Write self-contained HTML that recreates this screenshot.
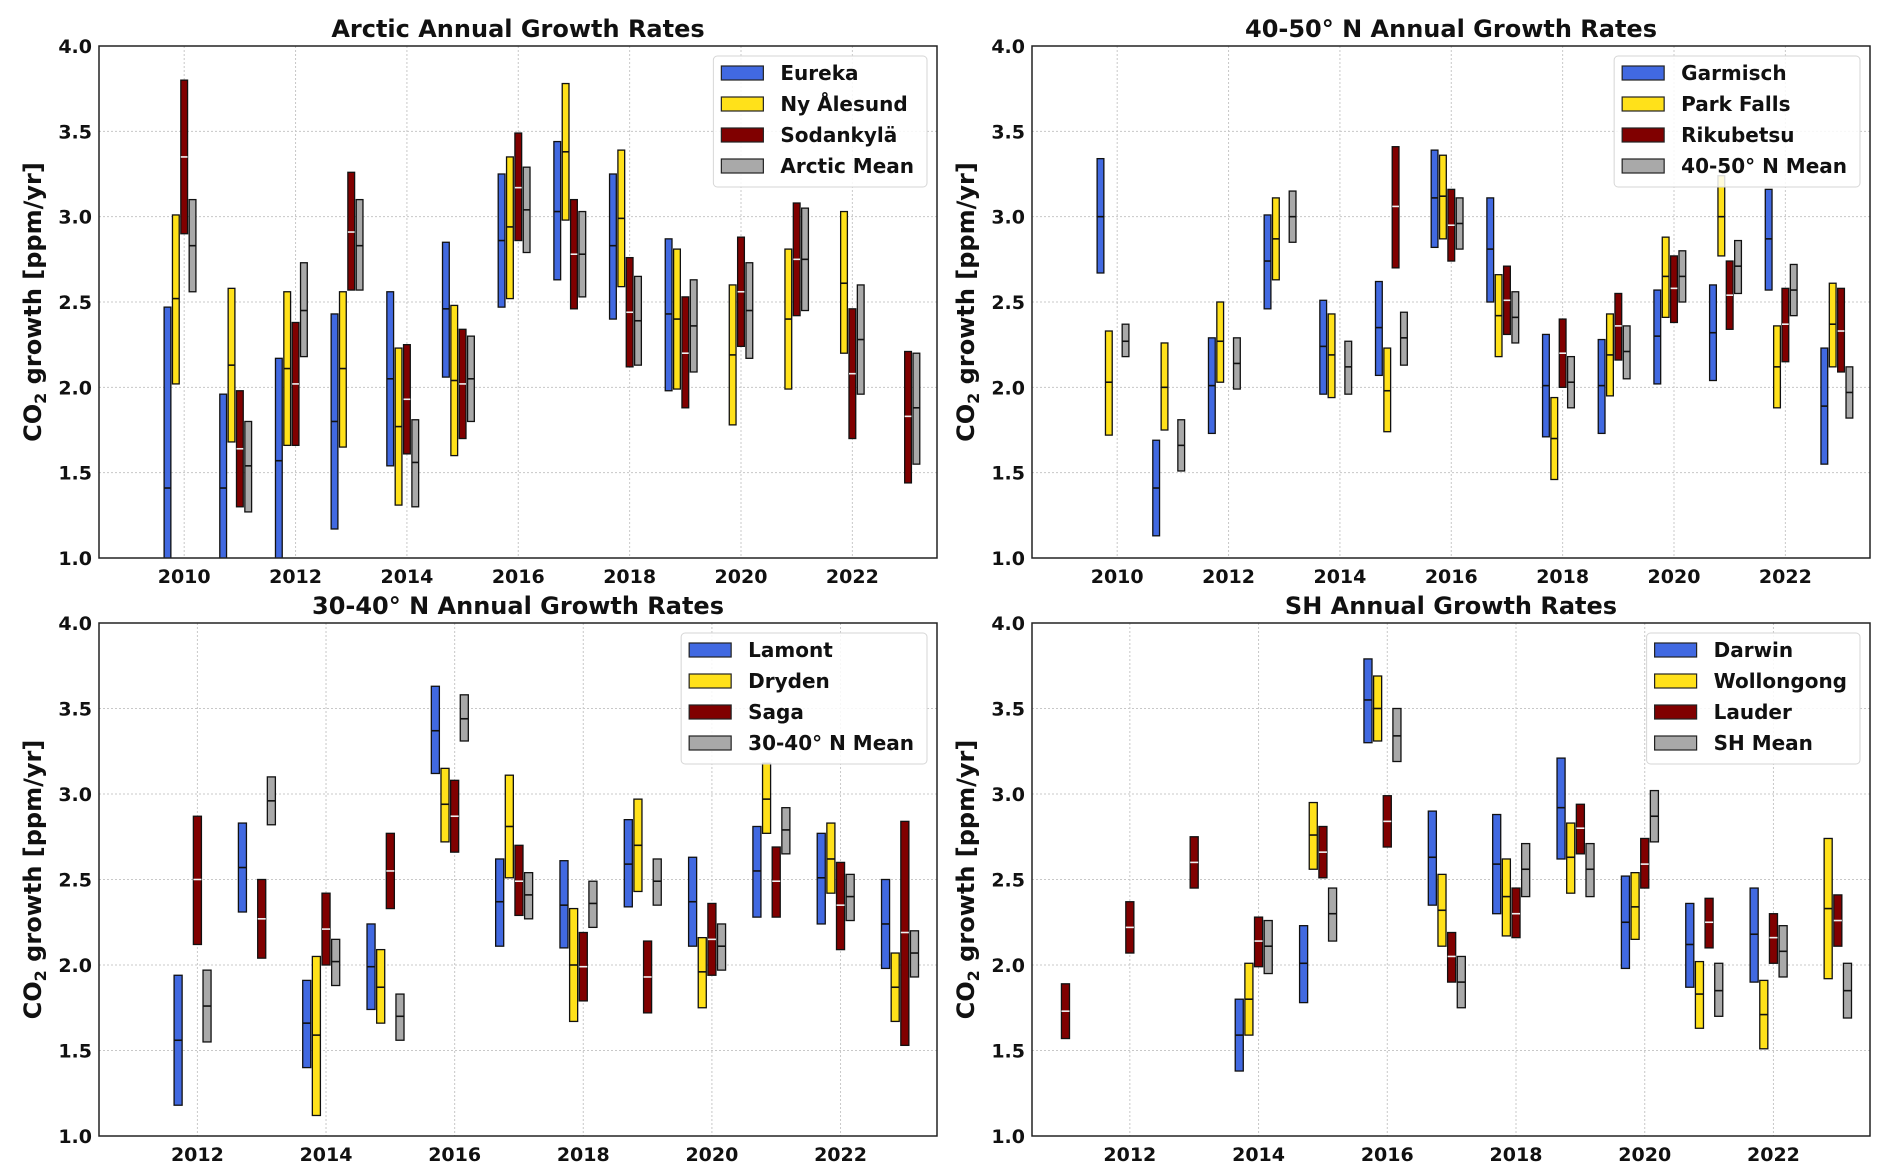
<!DOCTYPE html>
<html><head><meta charset="utf-8">
<style>
html,body{margin:0;padding:0;background:#fff;}
svg{display:block;}
text{font-family:"DejaVu Sans","Liberation Sans",sans-serif;font-weight:bold;}
</style></head>
<body>
<svg id="fig" width="1892" height="1176" viewBox="0 0 1892 1176" xmlns="http://www.w3.org/2000/svg"></svg>
<script>
// ===== Arctic panel data (hi / median / lo), years 2010..2023 =====
const arcticYears = [2010,2011,2012,2013,2014,2015,2016,2017,2018,2019,2020,2021,2022,2023];
const eurekaHi = [2.47,1.96,2.17,2.43,2.56,2.85,3.25,3.44,3.25,2.87,null,null,null,null];
const eurekaMid = [1.41,1.41,1.57,1.80,2.05,2.46,2.86,3.03,2.83,2.43,null,null,null,null];
const eurekaLo = [0.9,0.9,0.9,1.17,1.54,2.06,2.47,2.63,2.40,1.98,null,null,null,null];
const nyHi = [3.01,2.58,2.56,2.56,2.23,2.48,3.35,3.78,3.39,2.81,2.60,2.81,3.03,null];
const nyMid = [2.52,2.13,2.11,2.11,1.77,2.04,2.94,3.38,2.99,2.40,2.19,2.40,2.61,null];
const nyLo = [2.02,1.68,1.66,1.65,1.31,1.60,2.52,2.98,2.59,1.99,1.78,1.99,2.20,null];
const sodHi = [3.80,1.98,2.38,3.26,2.25,2.34,3.49,3.10,2.76,2.53,2.88,3.08,2.46,2.21];
const sodMid = [3.35,1.64,2.02,2.91,1.93,2.02,3.17,2.78,2.44,2.20,2.56,2.75,2.08,1.83];
const sodLo = [2.90,1.30,1.66,2.57,1.61,1.70,2.86,2.46,2.12,1.88,2.24,2.42,1.70,1.44];
const arcMeanHi = [3.10,1.80,2.73,3.10,1.81,2.30,3.29,3.03,2.65,2.63,2.73,3.05,2.60,2.20];
const arcMeanMid = [2.83,1.54,2.45,2.83,1.56,2.05,3.04,2.78,2.39,2.36,2.45,2.75,2.28,1.88];
const arcMeanLo = [2.56,1.27,2.18,2.57,1.30,1.80,2.79,2.53,2.13,2.09,2.17,2.45,1.96,1.55];
// ===== 40-50 N =====
const midYears = [2010,2011,2012,2013,2014,2015,2016,2017,2018,2019,2020,2021,2022,2023];
const garHi = [3.34,1.69,2.29,3.01,2.51,2.62,3.39,3.11,2.31,2.28,2.57,2.60,3.16,2.23];
const garMid = [3.00,1.41,2.01,2.74,2.24,2.35,3.11,2.81,2.01,2.01,2.30,2.32,2.87,1.89];
const garLo = [2.67,1.13,1.73,2.46,1.96,2.07,2.82,2.50,1.71,1.73,2.02,2.04,2.57,1.55];
const pfHi = [2.33,2.26,2.50,3.11,2.43,2.23,3.36,2.66,1.94,2.43,2.88,3.24,2.36,2.61];
const pfMid = [2.03,2.00,2.27,2.87,2.19,1.98,3.12,2.42,1.70,2.19,2.65,3.00,2.12,2.37];
const pfLo = [1.72,1.75,2.03,2.63,1.94,1.74,2.87,2.18,1.46,1.95,2.41,2.77,1.88,2.12];
const rikHi = [null,null,null,null,null,3.41,3.16,2.71,2.40,2.55,2.77,2.74,2.58,2.58];
const rikMid = [null,null,null,null,null,3.06,2.95,2.51,2.20,2.36,2.58,2.54,2.37,2.33];
const rikLo = [null,null,null,null,null,2.70,2.74,2.31,2.00,2.16,2.38,2.34,2.15,2.09];
const midMeanHi = [2.37,1.81,2.29,3.15,2.27,2.44,3.11,2.56,2.18,2.36,2.80,2.86,2.72,2.12];
const midMeanMid = [2.27,1.66,2.14,3.00,2.12,2.29,2.96,2.41,2.03,2.21,2.65,2.71,2.57,1.97];
const midMeanLo = [2.18,1.51,1.99,2.85,1.96,2.13,2.81,2.26,1.88,2.05,2.50,2.55,2.42,1.82];
// ===== 30-40 N =====
const subYears = [2012,2013,2014,2015,2016,2017,2018,2019,2020,2021,2022,2023];
const lamHi = [1.94,2.83,1.91,2.24,3.63,2.62,2.61,2.85,2.63,2.81,2.77,2.50];
const lamMid = [1.56,2.57,1.66,1.99,3.37,2.37,2.35,2.59,2.37,2.55,2.51,2.24];
const lamLo = [1.18,2.31,1.40,1.74,3.12,2.11,2.10,2.34,2.11,2.28,2.24,1.98];
const dryHi = [null,null,2.05,2.09,3.15,3.11,2.33,2.97,2.16,3.18,2.83,2.07];
const dryMid = [null,null,1.59,1.87,2.94,2.81,2.00,2.70,1.96,2.97,2.62,1.87];
const dryLo = [null,null,1.12,1.66,2.72,2.51,1.67,2.43,1.75,2.77,2.42,1.67];
const sagaHi = [2.87,2.50,2.42,2.77,3.08,2.70,2.19,2.14,2.36,2.69,2.60,2.84];
const sagaMid = [2.50,2.27,2.21,2.55,2.87,2.49,1.99,1.93,2.15,2.49,2.35,2.19];
const sagaLo = [2.12,2.04,2.00,2.33,2.66,2.29,1.79,1.72,1.94,2.28,2.09,1.53];
const subMeanHi = [1.97,3.10,2.15,1.83,3.58,2.54,2.49,2.62,2.24,2.92,2.53,2.20];
const subMeanMid = [1.76,2.96,2.02,1.70,3.44,2.41,2.36,2.49,2.11,2.79,2.40,2.07];
const subMeanLo = [1.55,2.82,1.88,1.56,3.31,2.27,2.22,2.35,1.97,2.65,2.26,1.93];
// ===== SH =====
const shYears = [2011,2012,2013,2014,2015,2016,2017,2018,2019,2020,2021,2022,2023];
const darHi = [null,null,null,1.80,2.23,3.79,2.90,2.88,3.21,2.52,2.36,2.45,null];
const darMid = [null,null,null,1.59,2.01,3.55,2.63,2.59,2.92,2.25,2.12,2.18,null];
const darLo = [null,null,null,1.38,1.78,3.30,2.35,2.30,2.62,1.98,1.87,1.90,null];
const wolHi = [null,null,null,2.01,2.95,3.69,2.53,2.62,2.83,2.54,2.02,1.91,2.74];
const wolMid = [null,null,null,1.80,2.76,3.50,2.32,2.40,2.63,2.34,1.83,1.71,2.33];
const wolLo = [null,null,null,1.59,2.56,3.31,2.11,2.17,2.42,2.15,1.63,1.51,1.92];
const lauHi = [1.89,2.37,2.75,2.28,2.81,2.99,2.19,2.45,2.94,2.74,2.39,2.30,2.41];
const lauMid = [1.73,2.22,2.60,2.14,2.66,2.84,2.05,2.30,2.80,2.59,2.25,2.16,2.26];
const lauLo = [1.57,2.07,2.45,1.99,2.51,2.69,1.90,2.16,2.65,2.45,2.10,2.01,2.11];
const shMeanHi = [null,null,null,2.26,2.45,3.50,2.05,2.71,2.71,3.02,2.01,2.23,2.01];
const shMeanMid = [null,null,null,2.11,2.30,3.34,1.90,2.56,2.56,2.87,1.85,2.08,1.85];
const shMeanLo = [null,null,null,1.95,2.14,3.19,1.75,2.40,2.40,2.72,1.70,1.93,1.69];

const yTicks = [1.0,1.5,2.0,2.5,3.0,3.5,4.0];
const xTicks = [2010,2012,2014,2016,2018,2020,2022];

const NS = "http://www.w3.org/2000/svg";
const fig = document.getElementById('fig');
const COLORS = ['#4169E1','#FFE11A','#800000','#A9A9A9'];
const OFFS = [-0.3,-0.15,0,0.15];
function mk(tag, attrs, parent){
  const e = document.createElementNS(NS, tag);
  for (const k in attrs) e.setAttribute(k, attrs[k]);
  (parent||fig).appendChild(e);
  return e;
}

function panel(key, title, box, xmin, xmax, years, series, names){
  const g = mk('g', {});
  
  
  const X = v => box.x0 + (v - xmin) / (xmax - xmin) * (box.x1 - box.x0);
  const Y = v => box.y1 - (v - 1.0) / 3.0 * (box.y1 - box.y0);
  const clip = mk('clipPath', {id: 'clip-' + key}, g);
  mk('rect', {x: box.x0, y: box.y0, width: box.x1 - box.x0, height: box.y1 - box.y0}, clip);
  yTicks.forEach(t => {
    const l = mk('line', {x1: box.x0, x2: box.x1, y1: Y(t), y2: Y(t), stroke: '#c8c8c8', 'stroke-width': 1, 'stroke-dasharray': '2,2'}, g);
    
    
    const tx = mk('text', {x: box.x0 - 7, y: Y(t) + 7, 'text-anchor': 'end', 'font-size': 19, fill: '#111', 'font-family': '"Liberation Sans",sans-serif'}, g);
    tx.textContent = t.toFixed(1);
    
    
  });
  xTicks.forEach(t => {
    if (t < xmin || t > xmax) return;
    const l = mk('line', {x1: X(t), x2: X(t), y1: box.y0, y2: box.y1, stroke: '#c8c8c8', 'stroke-width': 1, 'stroke-dasharray': '2,2'}, g);
    
    
    const tx = mk('text', {x: X(t), y: box.y1 + 25, 'text-anchor': 'middle', 'font-size': 19, fill: '#111', 'font-family': '"Liberation Sans",sans-serif'}, g);
    tx.textContent = String(t);
    
    
  });
  const bars = mk('g', {'clip-path': 'url(#clip-' + key + ')'}, g);
  series.forEach((s, si) => {
    years.forEach((yr, i) => {
      const hi = s[0][i], mid = s[1][i], lo = s[2][i];
      if (hi == null) return;
      const bw = X(xmin + 0.15) - X(xmin);
      const cx = X(yr + OFFS[si]);
      const r = mk('rect', {x: cx - bw/2 + 0.8, y: Y(hi), width: bw - 1.6, height: Y(lo) - Y(hi), fill: COLORS[si], stroke: '#111', 'stroke-width': 1.3}, bars);
      
      
      const m = mk('line', {x1: cx - bw/2 + 0.8, x2: cx + bw/2 - 0.8, y1: Y(mid), y2: Y(mid), stroke: si === 2 ? '#f0f0f0' : '#111', 'stroke-width': 1.6}, bars);
      
      
    });
  });
  const fr = mk('rect', {x: box.x0, y: box.y0, width: box.x1 - box.x0, height: box.y1 - box.y0, fill: 'none', stroke: '#222', 'stroke-width': 1.5}, g);
  
  
  const tt = mk('text', {x: (box.x0 + box.x1) / 2, y: box.y0 - 9, 'text-anchor': 'middle', 'font-size': 24, fill: '#111', 'font-family': '"Liberation Sans",sans-serif'}, g);
  tt.textContent = title;
  
  
  const cy = (box.y0 + box.y1) / 2;
  const yl = mk('text', {x: 0, y: 0, transform: 'translate(' + (box.x0 - 58) + ',' + cy + ') rotate(-90)', 'text-anchor': 'middle', 'font-size': 24, fill: '#111'}, g);
  yl.innerHTML = 'CO<tspan font-size="16" dy="5">2</tspan><tspan dy="-5"> growth [ppm/yr]</tspan>';
  
  
  // legend
  const lg = mk('g', {}, g);
  
  
  const bg = mk('rect', {y: box.y0 + 10, height: 131, rx: 4, fill: '#fff', 'fill-opacity': 0.85, stroke: '#d6d6d6', 'stroke-width': 1}, lg);
  const items = [];
  let maxW = 0;
  names.forEach((n, i) => {
    const ry = box.y0 + 27 + i * 31;
    const p = mk('rect', {y: ry - 7, width: 42, height: 14, fill: COLORS[i], stroke: '#222', 'stroke-width': 1.2}, lg);
    
    
    const t = mk('text', {y: ry + 7, 'font-size': 20, fill: '#111'}, lg);
    t.textContent = n;
    
    
    maxW = Math.max(maxW, t.getComputedTextLength());
    items.push([p, t]);
  });
  const lw = maxW + 80;
  const lx = box.x1 - 10 - lw;
  bg.setAttribute('x', lx);
  bg.setAttribute('width', lw);
  items.forEach(([p, t]) => { p.setAttribute('x', lx + 8); t.setAttribute('x', lx + 67); });
}

panel('arctic', 'Arctic Annual Growth Rates', {x0: 99, x1: 937, y0: 46, y1: 558}, 2008.47, 2023.52, arcticYears,
  [[eurekaHi, eurekaMid, eurekaLo], [nyHi, nyMid, nyLo], [sodHi, sodMid, sodLo], [arcMeanHi, arcMeanMid, arcMeanLo]],
  ['Eureka', 'Ny Ålesund', 'Sodankylä', 'Arctic Mean']);
panel('mid', '40-50° N Annual Growth Rates', {x0: 1032, x1: 1870, y0: 46, y1: 558}, 2008.47, 2023.52, midYears,
  [[garHi, garMid, garLo], [pfHi, pfMid, pfLo], [rikHi, rikMid, rikLo], [midMeanHi, midMeanMid, midMeanLo]],
  ['Garmisch', 'Park Falls', 'Rikubetsu', '40-50° N Mean']);
panel('sub', '30-40° N Annual Growth Rates', {x0: 99, x1: 937, y0: 623, y1: 1136}, 2010.47, 2023.5, subYears,
  [[lamHi, lamMid, lamLo], [dryHi, dryMid, dryLo], [sagaHi, sagaMid, sagaLo], [subMeanHi, subMeanMid, subMeanLo]],
  ['Lamont', 'Dryden', 'Saga', '30-40° N Mean']);
panel('sh', 'SH Annual Growth Rates', {x0: 1032, x1: 1870, y0: 623, y1: 1136}, 2010.48, 2023.5, shYears,
  [[darHi, darMid, darLo], [wolHi, wolMid, wolLo], [lauHi, lauMid, lauLo], [shMeanHi, shMeanMid, shMeanLo]],
  ['Darwin', 'Wollongong', 'Lauder', 'SH Mean']);
</script>
</body></html>
